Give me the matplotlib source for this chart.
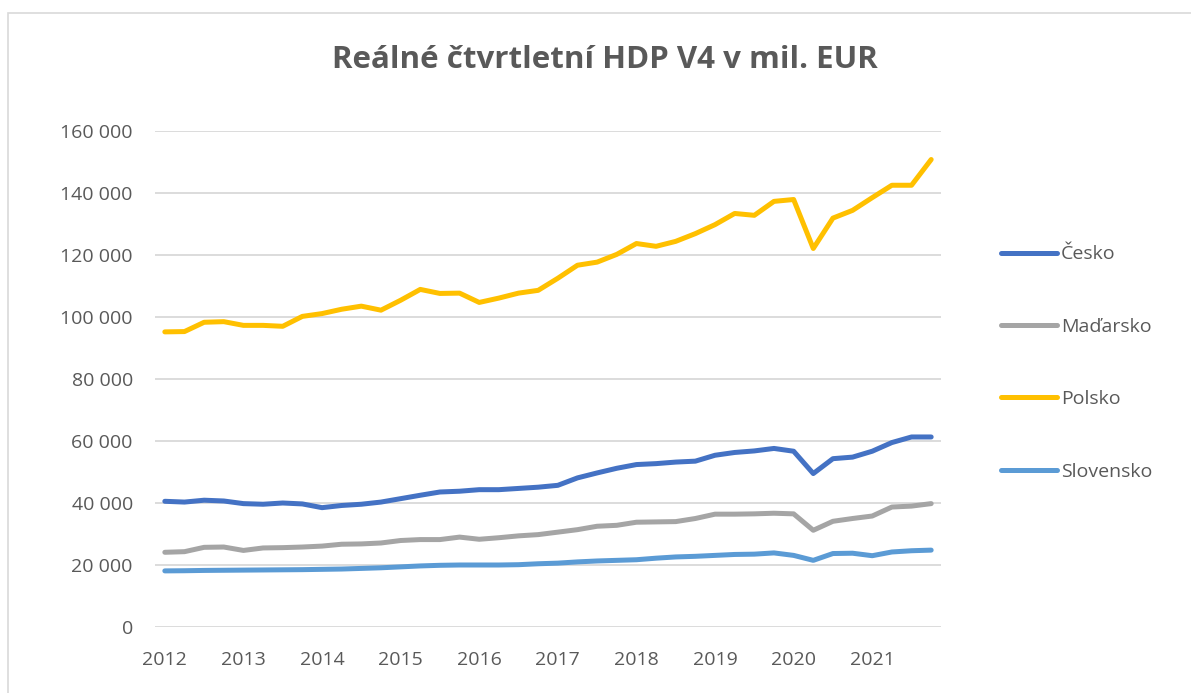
import matplotlib
matplotlib.use('agg')
from matplotlib import pyplot as plt
from matplotlib.patches import Rectangle
import numpy as np

# quarterly real GDP, 2012Q1 .. 2021Q4 (mil. EUR)
years = [str(y) for y in range(2012, 2022)]

cesko = [40550, 40300, 40900, 40650, 39800, 39600, 40000, 39700, 38500, 39200,
         39600, 40300, 41400, 42500, 43550, 43800, 44300, 44300, 44700, 45100,
         45700, 48100, 49700, 51200, 52400, 52700, 53200, 53500, 55400, 56300,
         56800, 57600, 56700, 49500, 54300, 54800, 56700, 59500, 61300, 61300]
madarsko = [24100, 24300, 25700, 25800, 24700, 25500, 25600, 25800, 26100, 26700,
            26800, 27100, 27900, 28200, 28200, 29000, 28300, 28800, 29400, 29800,
            30600, 31400, 32500, 32800, 33800, 33900, 34000, 35000, 36400, 36400,
            36500, 36700, 36500, 31200, 34100, 35000, 35800, 38700, 39000, 39800]
polsko = [95200, 95300, 98300, 98500, 97300, 97300, 97000, 100200, 101100, 102500,
          103500, 102200, 105400, 108900, 107600, 107700, 104700, 106100, 107700, 108600,
          112500, 116700, 117700, 120200, 123700, 122800, 124400, 126900, 129800, 133400,
          132800, 137300, 137900, 122100, 131900, 134400, 138500, 142500, 142500, 150800]
slovensko = [18100, 18150, 18250, 18300, 18350, 18400, 18450, 18500, 18600, 18700,
             18900, 19100, 19400, 19700, 19900, 20000, 20000, 20000, 20100, 20400,
             20600, 21000, 21300, 21500, 21700, 22200, 22600, 22800, 23100, 23400,
             23500, 23900, 23100, 21500, 23700, 23800, 23000, 24200, 24600, 24800]

names = ['Česko', 'Maďarsko', 'Polsko', 'Slovensko']
colors = ['#4472C4', '#A5A5A5', '#FFC000', '#5B9BD5']
series = [cesko, madarsko, polsko, slovensko]

plt.rcParams['font.family'] = ['Open Sans', 'DejaVu Sans']
text_col = '#595959'

fig = plt.figure(figsize=(11.91, 6.93), dpi=100)
ax = fig.add_axes([155 / 1191, 1 - 627 / 693, 786 / 1191, 496 / 693])

x = np.arange(len(cesko))
for vals, name, col in zip(series, names, colors):
    ax.plot(x, vals, color=col, lw=3.6, label=name, solid_capstyle='round',
            solid_joinstyle='round')

ax.set_xlim(-0.5, len(x) - 0.5)
ax.set_ylim(0, 160000)
ax.set_yticks(np.arange(0, 160001, 20000))
ax.set_yticklabels([f'{v:,}'.replace(',', ' ') for v in range(0, 160001, 20000)])
ax.set_xticks(np.arange(0, len(x), 4))
ax.set_xticklabels(years)
ax.grid(axis='y', color='#D9D9D9', lw=1.3)
ax.set_axisbelow(True)
for s in ax.spines.values():
    s.set_visible(False)
ax.tick_params(length=0, labelsize=14, colors=text_col)
ax.tick_params(axis='x', pad=17)
ax.tick_params(axis='y', pad=16)

fig.text(605 / 1191, 1 - 60 / 693, 'Reálné čtvrtletní HDP V4 v mil. EUR', ha='center', va='center',
         fontsize=22.5, fontweight='bold', color=text_col)

leg = fig.legend(loc='center left', bbox_to_anchor=(993 / 1191, 1 - 363 / 693), frameon=False,
                 fontsize=14, labelcolor=text_col, handlelength=2.9, handletextpad=0.2,
                 labelspacing=2.8, borderaxespad=0)

# chart border
fig.patches.append(Rectangle((8 / 1191, -0.1), 1.2, 1 - 13 / 693 + 0.1, transform=fig.transFigure,
                             fill=False, edgecolor='#D9D9D9', lw=1.2))

fig.savefig('out.png', dpi=100)
